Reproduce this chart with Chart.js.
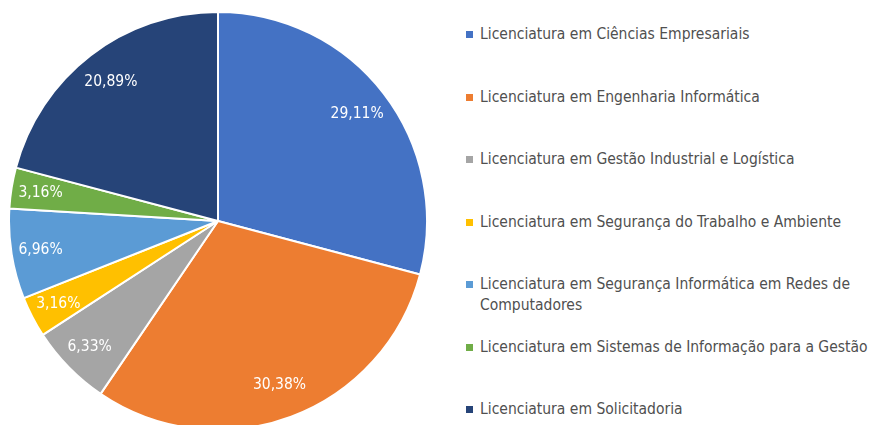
<!DOCTYPE html>
<html><head><meta charset="utf-8">
<script src="https://cdn.jsdelivr.net/npm/chart.js@4.4.1/dist/chart.umd.min.js"></script>
<style>
html,body{margin:0;padding:0;width:879px;height:425px;overflow:hidden;background:#fff;}
#wrap{position:absolute;left:8px;top:11px;width:420px;height:420px;}
#legend{position:absolute;left:466px;top:0;width:412px;height:425px;font-family:"DejaVu Sans Condensed",sans-serif;font-size:15.5px;color:#505050;}
.li{position:absolute;left:0;display:flex;align-items:flex-start;line-height:21px;}
.sw{width:7px;height:7px;margin-top:7px;margin-right:7px;flex:0 0 7px;}
</style></head>
<body>
<div id="wrap"><canvas id="c"></canvas></div>
<div id="legend"></div>
<script>
const categories = [
  "Licenciatura em Ciências Empresariais",
  "Licenciatura em Engenharia Informática",
  "Licenciatura em Gestão Industrial e Logística",
  "Licenciatura em Segurança do Trabalho e Ambiente",
  "Licenciatura em Segurança Informática em Redes de Computadores",
  "Licenciatura em Sistemas de Informação para a Gestão",
  "Licenciatura em Solicitadoria"
];
const percentages = [29.11, 30.38, 6.33, 3.16, 6.96, 3.16, 20.89];
const colors = ["#4472C4","#ED7D31","#A5A5A5","#FFC000","#5B9BD5","#70AD47","#264478"];

const labelPlugin = {
  id: 'pctLabels',
  afterDatasetsDraw(chart) {
    const ctx = chart.ctx;
    const meta = chart.getDatasetMeta(0);
    ctx.save();
    ctx.fillStyle = '#ffffff';
    ctx.font = '15.5px "DejaVu Sans Condensed",sans-serif';
    ctx.textAlign = 'center';
    ctx.textBaseline = 'middle';
    meta.data.forEach((arc, i) => {
      const p = arc.getProps(['x','y','startAngle','endAngle','outerRadius'], true);
      const a = (p.startAngle + p.endAngle) / 2;
      const f = percentages[i] < 10 ? 0.86 : 0.84;
      const x = p.x + Math.cos(a) * p.outerRadius * f;
      const y = p.y + Math.sin(a) * p.outerRadius * f;
      ctx.fillText(percentages[i].toFixed(2).replace('.', ',') + '%', x, y);
    });
    ctx.restore();
  }
};

const htmlLegend = {
  id: 'htmlLegend',
  afterUpdate(chart) {
    const box = document.getElementById('legend');
    box.innerHTML = '';
    chart.data.labels.forEach((lab, i) => {
      const item = document.createElement('div');
      item.className = 'li';
      item.style.top = (24 + i * 62.5) + 'px';
      const sw = document.createElement('span');
      sw.className = 'sw';
      sw.style.background = chart.data.datasets[0].backgroundColor[i];
      const tx = document.createElement('span');
      tx.textContent = lab;
      item.appendChild(sw); item.appendChild(tx);
      box.appendChild(item);
    });
  }
};

new Chart(document.getElementById('c'), {
  type: 'pie',
  data: {
    labels: categories,
    datasets: [{
      data: percentages,
      backgroundColor: colors,
      borderColor: '#ffffff',
      borderWidth: 2
    }]
  },
  options: {
    responsive: true,
    maintainAspectRatio: false,
    animation: false,
    layout: { padding: 0 },
    plugins: { legend: { display: false }, tooltip: { enabled: false } }
  },
  plugins: [labelPlugin, htmlLegend]
});
</script>
</body></html>
